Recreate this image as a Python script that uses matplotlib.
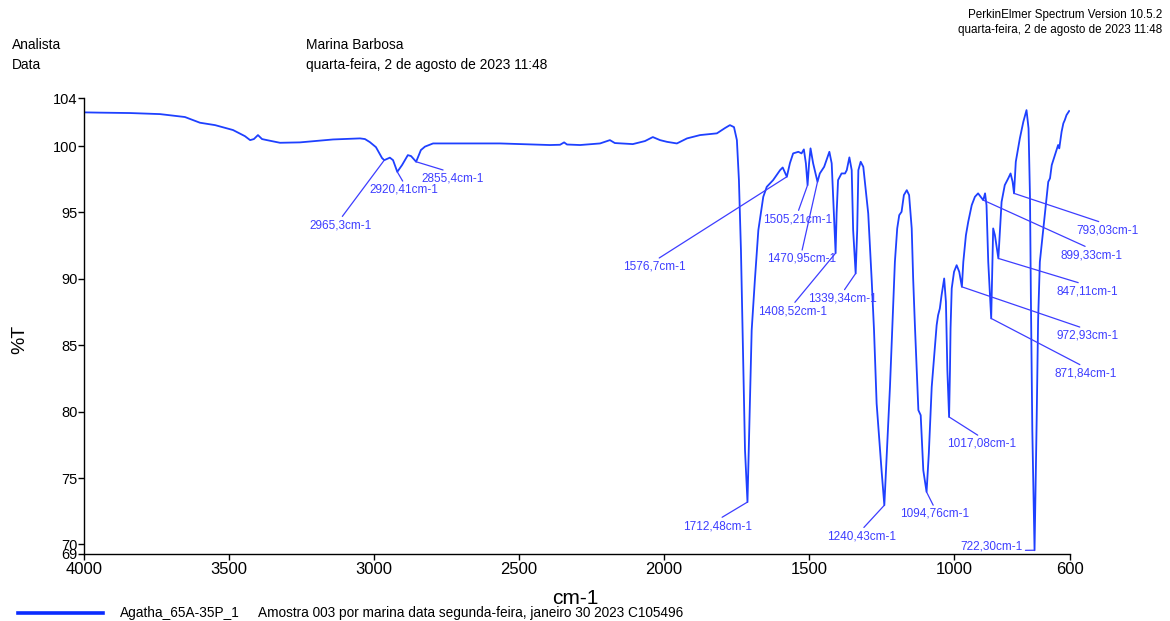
import matplotlib
matplotlib.use("Agg")
import matplotlib.pyplot as plt
from matplotlib.lines import Line2D
import numpy as np

plt.rcParams['font.family'] = ['Liberation Sans', 'DejaVu Sans']

# FT-IR spectrum: wavenumber (cm-1) and transmittance (%T)
wavenumber = [
    4000, 3946, 3842, 3739, 3653, 3601, 3549, 3487, 3446, 3428, 3415, 3401, 3387,
    3370, 3325, 3256, 3142, 3049, 3032, 3015, 2994, 2973, 2965.3, 2946, 2935,
    2920.41, 2904, 2884, 2873, 2855.4, 2839, 2825, 2797, 2566, 2394, 2359, 2345,
    2335, 2290, 2221, 2187, 2170, 2108, 2066, 2039, 2014, 1990, 1956, 1921, 1876,
    1818, 1790, 1773, 1759, 1749, 1742, 1735, 1728, 1721, 1712.48, 1698, 1687,
    1675, 1658, 1646, 1624, 1600, 1591, 1576.7, 1566, 1555, 1537, 1526, 1518,
    1511, 1505.21, 1500, 1495, 1486, 1470.95, 1463, 1448, 1430, 1422, 1417,
    1408.52, 1405, 1400, 1388, 1376, 1370, 1361, 1353, 1348, 1339.34, 1334, 1330,
    1322, 1313, 1296, 1284, 1276, 1267, 1250, 1240.43, 1232, 1221, 1212, 1204,
    1196, 1189, 1181, 1173, 1163, 1155, 1146, 1141, 1135, 1123, 1115, 1106,
    1094.76, 1087, 1077, 1060, 1055, 1049, 1043, 1034, 1028, 1023, 1017.08, 1014,
    1012, 1008, 1000, 991, 982, 972.93, 968, 959, 951, 939, 928, 917, 899.33, 893,
    888, 882, 871.84, 865, 859, 847.11, 836, 825, 813, 805, 798, 793.03, 787, 773,
    761, 750, 743, 738, 735, 730, 722.30, 715, 710, 704, 686, 675, 669, 663, 652,
    641, 637, 629, 623, 618, 612, 603,
]
transmittance = [
    102.54, 102.52, 102.49, 102.41, 102.19, 101.76, 101.58, 101.21, 100.75, 100.45,
    100.53, 100.83, 100.53, 100.45, 100.25, 100.28, 100.50, 100.58, 100.53, 100.30,
    99.92, 99.10, 98.94, 99.13, 98.94, 98.06, 98.57, 99.32, 99.25, 98.82, 99.70,
    99.96, 100.20, 100.20, 100.08, 100.10, 100.28, 100.12, 100.08, 100.20, 100.45,
    100.23, 100.15, 100.38, 100.68, 100.45, 100.32, 100.20, 100.58, 100.83, 100.96,
    101.36, 101.58, 101.43, 100.45, 97.44, 92.16, 84.63, 77.09, 73.19, 86.13, 89.90,
    93.67, 96.18, 96.93, 97.44, 98.19, 98.39, 97.69, 98.72, 99.45, 99.57, 99.45,
    99.75, 98.70, 97.06, 98.70, 99.83, 98.70, 97.31, 97.94, 98.44, 99.57, 98.70,
    96.18, 91.94, 94.95, 97.44, 97.94, 97.94, 98.19, 99.15, 98.19, 93.67, 90.41,
    93.67, 98.19, 98.82, 98.44, 94.93, 89.90, 86.13, 80.61, 75.58, 72.95, 76.84,
    81.86, 86.89, 91.28, 93.80, 94.80, 95.05, 96.31, 96.68, 96.31, 93.80, 90.03,
    86.51, 80.11, 79.73, 75.58, 73.95, 76.84, 81.86, 86.51, 87.26, 87.77, 88.77,
    90.03, 88.27, 83.12, 79.60, 83.12, 86.28, 89.28, 90.53, 91.03, 90.53, 89.40,
    91.28, 93.29, 94.30, 95.55, 96.18, 96.44, 95.93, 96.44, 95.55, 91.28, 87.02,
    93.80, 93.29, 91.54, 95.80, 97.06, 97.57, 97.94, 97.31, 96.44, 98.82, 100.58,
    101.83, 102.71, 101.33, 96.18, 88.77, 78.60, 69.56, 79.35, 86.89, 91.28, 95.05,
    97.31, 97.57, 98.57, 99.32, 100.08, 99.83, 101.08, 101.71, 101.96, 102.34,
    102.64,
]

# Labelled bands
peak_wavenumbers = [2965.3, 2920.41, 2855.4, 1712.48, 1576.7, 1505.21, 1470.95,
                    1408.52, 1339.34, 1240.43, 1094.76, 1017.08, 972.93, 899.33,
                    871.84, 847.11, 793.03, 722.30]
peak_labels = ["2965,3cm-1", "2920,41cm-1", "2855,4cm-1", "1712,48cm-1",
               "1576,7cm-1", "1505,21cm-1", "1470,95cm-1", "1408,52cm-1",
               "1339,34cm-1", "1240,43cm-1", "1094,76cm-1", "1017,08cm-1",
               "972,93cm-1", "899,33cm-1", "871,84cm-1", "847,11cm-1",
               "793,03cm-1", "722,30cm-1"]

x_ticks = [4000, 3500, 3000, 2500, 2000, 1500, 1000, 600]
y_ticks = [69.3, 70, 75, 80, 85, 90, 95, 100, 103.6]
y_tick_labels = ["69", "70", "75", "80", "85", "90", "95", "100", "104"]

# label placement: offset (pixels) of each label anchor from its band
label_offsets = [(-44, -59), (7, -12), (36, -11), (-30, -18), (-132, -84),
                 (-10, -28), (-16, -71), (-43, -52), (-13, -19), (-23, -25),
                 (8, -16), (33, -21), (126, -43), (108, -49), (94, -49),
                 (89, -27), (93, -31), (-43, -2.5)]

W, H = 1170, 621
fig = plt.figure(figsize=(W / 100, H / 100), dpi=100)
ax = fig.add_axes([84.3 / W, 1 - 553.7 / H, (1070 - 84.3) / W, (553.7 - 98.3) / H])

line_color = '#1e40ff'
label_color = '#3d3dff'

ax.plot(wavenumber, transmittance, color=line_color, lw=1.3)

ax.set_xlim(4000, 600)
ax.set_ylim(69.3, 103.6)
ax.set_xticks(x_ticks)
ax.set_xticklabels([str(t) for t in x_ticks])
ax.set_yticks(y_ticks)
ax.set_yticklabels(y_tick_labels)
for s in ('top', 'right'):
    ax.spines[s].set_visible(False)
for s in ('left', 'bottom'):
    ax.spines[s].set_linewidth(1.0)
ax.tick_params(axis='both', direction='out', length=4, width=1.0, colors='black')
ax.tick_params(axis='x', labelsize=12, pad=2)
ax.tick_params(axis='y', labelsize=10.5, pad=1)

wn_asc = np.array(wavenumber)[::-1]
t_asc = np.array(transmittance)[::-1]
for wn, lab, (dx, dy) in zip(peak_wavenumbers, peak_labels, label_offsets):
    t = float(np.interp(wn, wn_asc, t_asc))
    underline = lab.startswith("722")
    ax.annotate(lab, xy=(wn, t), xytext=(dx, dy), textcoords='offset pixels',
                ha='center', va='bottom' if underline else 'top',
                fontsize=8.5, color=label_color,
                arrowprops=dict(arrowstyle='-', color=label_color, lw=0.9,
                                shrinkA=0, shrinkB=0,
                                relpos=(0.5, 0.18) if underline else (0.5, 1.0)))

# axis titles
fig.text(575 / W, 1 - 598 / H, "cm-1", ha='center', va='center', fontsize=15)
fig.text(20 / W, 1 - 339 / H, "%T", ha='center', va='center', fontsize=14, rotation=90)

# header
hdr = 9.9
fig.text(12 / W, 1 - 45 / H, "Analista", ha='left', va='center', fontsize=hdr)
fig.text(12 / W, 1 - 65 / H, "Data", ha='left', va='center', fontsize=hdr)
fig.text(306 / W, 1 - 45 / H, "Marina Barbosa", ha='left', va='center', fontsize=hdr)
fig.text(306 / W, 1 - 65 / H, "quarta-feira, 2 de agosto de 2023 11:48",
         ha='left', va='center', fontsize=hdr)
fig.text(1162 / W, 1 - 15 / H, "PerkinElmer Spectrum Version 10.5.2",
         ha='right', va='center', fontsize=8.4)
fig.text(1162 / W, 1 - 30 / H, "quarta-feira, 2 de agosto de 2023 11:48",
         ha='right', va='center', fontsize=8.4)

# sample legend
fig.add_artist(Line2D([18 / W, 103 / W], [1 - 613 / H, 1 - 613 / H],
                      transform=fig.transFigure, color='#0a2bff', lw=2.6))
fig.text(120 / W, 1 - 613 / H, "Agatha_65A-35P_1", ha='left', va='center', fontsize=9.8)
fig.text(258 / W, 1 - 613 / H,
         "Amostra 003 por marina data segunda-feira, janeiro 30 2023 C105496",
         ha='left', va='center', fontsize=9.8)

fig.savefig("out.png", dpi=100)
